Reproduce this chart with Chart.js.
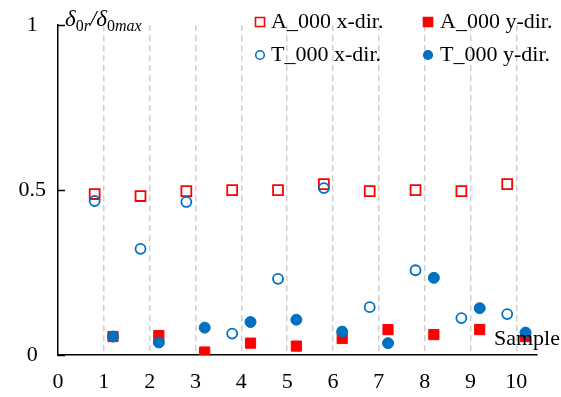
<!DOCTYPE html>
<html><head><meta charset="utf-8">
<script src="https://cdn.jsdelivr.net/npm/chart.js@4/dist/chart.umd.min.js"></script>
<style>html,body{margin:0;padding:0;background:#fff}#wrap{width:561px;height:397px}</style>
</head><body><div id="wrap"><canvas id="c" width="561" height="397"></canvas></div>
<script>
// ---- data ----
const samples = [1, 2, 3, 4, 5, 6, 7, 8, 9, 10];
const xTickLabels = ['0', '1', '2', '3', '4', '5', '6', '7', '8', '9', '10'];
const yTickLabels = ['0', '0.5', '1'];
const yTickValues = [0, 0.5, 1];
const seriesLabels = ['A_000 x-dir.', 'A_000 y-dir.', 'T_000 x-dir.', 'T_000 y-dir.'];
const aXdir = [0.488, 0.482, 0.497, 0.500, 0.500, 0.518, 0.497, 0.500, 0.497, 0.518];
const aYdir = [0.056, 0.059, 0.009, 0.036, 0.027, 0.050, 0.077, 0.062, 0.077, 0.056];
const tXdir = [0.467, 0.322, 0.464, 0.065, 0.231, 0.506, 0.145, 0.257, 0.112, 0.124];
const tYdir = [0.056, 0.038, 0.083, 0.100, 0.107, 0.071, 0.036, 0.234, 0.142, 0.068];
const xTitle = 'Sample';

const SHIFT = 0.2;
const FONT = "'Liberation Serif', 'Times New Roman', serif";
const RED = '#FF0000', BLUE = '#0070C0';
const pts = (vals, d) => vals.map((v, i) => ({x: samples[i] + d, y: v}));

const datasets = [
  {label: seriesLabels[0], data: pts(aXdir, -SHIFT), pointStyle: 'rect', pointRadius: 7,
   borderColor: RED, backgroundColor: 'rgba(0,0,0,0)', borderWidth: 1.8, order: 1},
  {label: seriesLabels[1], data: pts(aYdir, SHIFT), pointStyle: 'rect', pointRadius: 7.2,
   borderColor: RED, backgroundColor: RED, borderWidth: 1, order: 1},
  {label: seriesLabels[2], data: pts(tXdir, -SHIFT), pointStyle: 'circle', pointRadius: 5,
   borderColor: BLUE, backgroundColor: 'rgba(0,0,0,0)', borderWidth: 1.8, order: 0},
  {label: seriesLabels[3], data: pts(tYdir, SHIFT), pointStyle: 'circle', pointRadius: 5.5,
   borderColor: BLUE, backgroundColor: BLUE, borderWidth: 1, order: 0}
];

const decor = {
  id: 'decor',
  afterDatasetsDraw(chart) {
    const ctx = chart.ctx, ca = chart.chartArea, ys = chart.scales.y;
    ctx.save();
    // inner tick marks on y axis
    ctx.strokeStyle = '#000'; ctx.lineWidth = 1.5;
    yTickValues.forEach(v => {
      const p = Math.round(ys.getPixelForValue(v)) + 0.5;
      ctx.beginPath(); ctx.moveTo(ca.left, p); ctx.lineTo(ca.left + 7, p); ctx.stroke();
    });
    // x-axis title
    ctx.fillStyle = '#000';
    ctx.font = '22px ' + FONT;
    ctx.textAlign = 'left'; ctx.textBaseline = 'middle';
    ctx.fillText(xTitle, 494, 339);
    // y-axis title: δ0r/δ0max
    ctx.textBaseline = 'alphabetic';
    let x = 65;
    const big = 'italic 23px ' + FONT, sub = 'italic 16px ' + FONT, subUp = '16px ' + FONT;
    const parts = [['δ', big, 26], ['0', subUp, 31], ['r', sub, 31], ['/', big, 26],
                   ['δ', big, 26], ['0', subUp, 31], ['max', sub, 31]];
    parts.forEach(([t, f, by]) => { ctx.font = f; ctx.fillText(t, x, by); x += ctx.measureText(t).width; });
    // legend
    const cols = [[260, 271], [428, 440]], rows = [22, 55];
    chart.data.datasets.forEach((ds, i) => {
      const [mx, tx] = cols[i % 2]; const y = rows[Math.floor(i / 2)];
      ctx.lineWidth = 1.6; ctx.strokeStyle = ds.borderColor; ctx.fillStyle = ds.backgroundColor;
      ctx.beginPath();
      if (ds.pointStyle === 'rect') ctx.rect(mx - 4.5, y - 4.5, 9, 9);
      else ctx.arc(mx, y, 4.3, 0, Math.PI * 2);
      if (ds.backgroundColor !== 'rgba(0,0,0,0)') ctx.fill();
      ctx.stroke();
      ctx.fillStyle = '#000'; ctx.font = '22px ' + FONT; ctx.textBaseline = 'middle';
      ctx.fillText(ds.label, tx, y + 0.5);
    });
    ctx.restore();
  }
};

new Chart(document.getElementById('c'), {
  type: 'scatter',
  data: {datasets},
  options: {
    responsive: false, animation: false, events: [],
    layout: {padding: {left: 0, top: 17, right: 24, bottom: 0}},
    plugins: {legend: {display: false}, tooltip: {enabled: false}},
    scales: {
      x: {
        type: 'linear', min: 0, max: 10.45,
        afterBuildTicks: s => { s.ticks = xTickLabels.map((l, i) => ({value: i})); },
        afterFit: s => { s.height = 42; },
        ticks: {callback: (v, i) => xTickLabels[i], color: '#000', font: {family: FONT, size: 22}, padding: 14, maxRotation: 0, autoSkip: false},
        grid: {drawTicks: false, lineWidth: 1.5,
               color: c => (c.tick && c.tick.value === 0) ? 'rgba(0,0,0,0)' : '#cfcfcf'},
        border: {display: true, color: '#000', width: 1.5, dash: [6, 4]}
      },
      y: {
        type: 'linear', min: 0, max: 1,
        afterBuildTicks: s => { s.ticks = yTickValues.map(v => ({value: v})); },
        afterFit: s => { s.width = 58; },
        ticks: {callback: (v, i) => yTickLabels[i], color: '#000', font: {family: FONT, size: 22}, padding: 12, crossAlign: 'center'},
        grid: {display: false, drawTicks: false},
        border: {display: true, color: '#000', width: 1.5}
      }
    }
  },
  plugins: [decor]
});
</script>
</body></html>
